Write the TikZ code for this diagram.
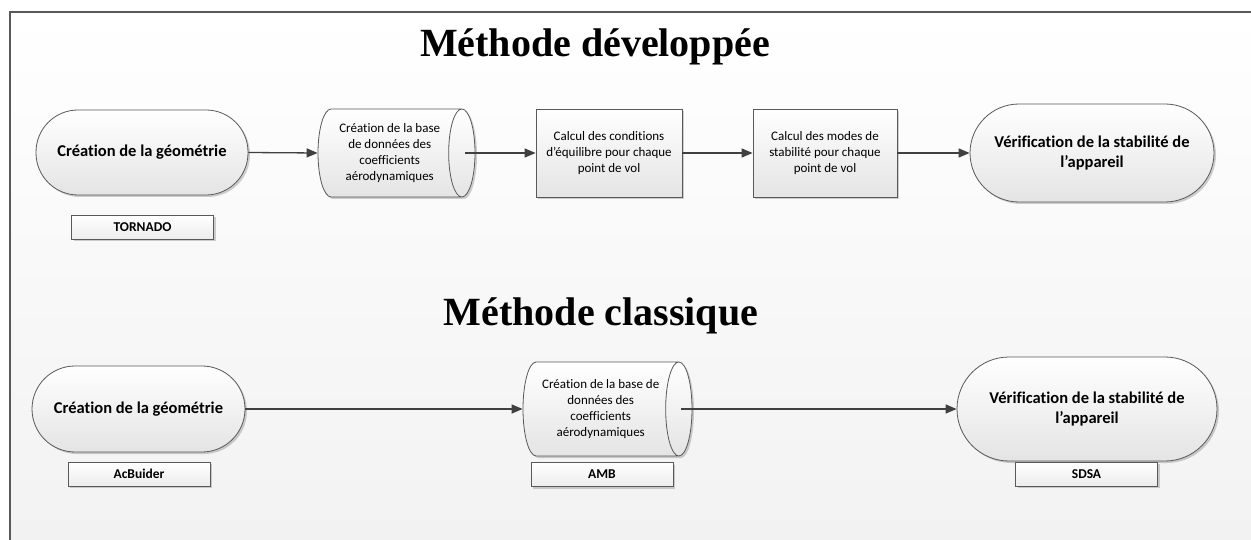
\documentclass[tikz,border=0pt]{standalone}
\usepackage{fontspec}
\setmainfont{Carlito}[Ligatures=NoCommon]
\newfontfamily\titleserif{Liberation Serif}
\usepackage{tikz}
\usetikzlibrary{arrows.meta,shapes.geometric,shadows,positioning}
\definecolor{linegray}{HTML}{595959}
\definecolor{arrowgray}{HTML}{404040}
\definecolor{boxgray}{HTML}{E4E4E4}
\definecolor{bggray}{HTML}{F2F2F2}
\tikzset{softshadow/.style={drop shadow={shadow xshift=2pt,shadow yshift=-2pt,opacity=0.18,fill=black}}}

\begin{document}
\begin{tikzpicture}[x=1pt,y=-1pt,
    title/.style={font=\titleserif\bfseries\fontsize{40}{44}\selectfont, anchor=base},
    term/.style={rectangle, rounded corners=#1, draw=linegray, line width=0.8pt, top color=white, bottom color=boxgray, softshadow, align=center, font=\bfseries\fontsize{16.5}{20}\selectfont},
    stepbox/.style={rectangle, draw=linegray, line width=0.8pt, top color=white, bottom color=boxgray, softshadow, align=center, minimum height=88pt, font=\fontsize{13}{15.8}\selectfont},
    db/.style={cylinder, shape border rotate=0, aspect=0.45, anchor=shape center, draw=linegray, line width=0.8pt, top color=white, bottom color=boxgray, softshadow, align=center, inner sep=0pt, font=\fontsize{13}{15.8}\selectfont},
    tool/.style={rectangle, draw=linegray, line width=0.8pt, top color=white, bottom color=boxgray!70, softshadow, minimum width=142pt, minimum height=24pt, inner sep=0pt, font=\bfseries\fontsize{13.5}{15}\selectfont},
    flow/.style={-{Triangle[length=11pt,width=9pt]}, draw=arrowgray, line width=1.3pt}]
    \useasboundingbox (0,0) rectangle (1251,540);
    \shade[top color=white, bottom color=bggray] (10,12) rectangle (1251,540);
    \draw[linegray, line width=1.2pt] (10,540) -- (10,12) -- (1251,12);
    \node[title] (titledev) at (595,57) {Méthode développée};
    \node[title] (titleclass) at (601,325) {Méthode classique};
    \node[term=42pt, minimum width=212pt, minimum height=85pt] (geoA) at (142,152.5) {Création de la géométrie};
    \node[tool] (tornado) at (142.5,227.5) {TORNADO};
    \node[db, minimum height=157pt, minimum width=88pt] (baseA) at (396.5,153) {Création de la base\\de données des\\coefficients\\aérodynamiques};
    \node[stepbox, minimum width=146pt] (equil) at (609,153) {Calcul des conditions\\d’équilibre pour chaque\\point de vol};
    \node[stepbox, minimum width=144pt] (modes) at (825,153) {Calcul des modes de\\stabilité pour chaque\\point de vol};
    \node[term=49pt, minimum width=244pt, minimum height=98pt] (verifA) at (1092,153) {Vérification de la stabilité de\\l’appareil};
    \node[term=43pt, minimum width=213pt, minimum height=86pt] (geoB) at (138.5,409) {Création de la géométrie};
    \node[tool] (acbuider) at (139,474) {AcBuider};
    \node[db, minimum height=169pt, minimum width=94pt] (baseB) at (607.5,409) {Création de la base de\\données des\\coefficients\\aérodynamiques};
    \node[tool] (amb) at (602,474.5) {AMB};
    \node[term=52pt, minimum width=260pt, minimum height=104pt] (verifB) at (1087,409) {Vérification de la stabilité de\\l’appareil};
    \node[tool] (sdsa) at (1086.5,474) {SDSA};
    \draw[flow] (geoA.east) -- (baseA.west);
    \draw[flow] ([xshift=-10pt]baseA.top) -- (equil.west);
    \draw[flow] (equil.east) -- (modes.west);
    \draw[flow] (modes.east) -- (verifA.west);
    \draw[flow] (geoB.east) -- (baseB.west);
    \draw[flow] ([xshift=-11pt]baseB.top) -- (verifB.west);
\end{tikzpicture}
\end{document}
